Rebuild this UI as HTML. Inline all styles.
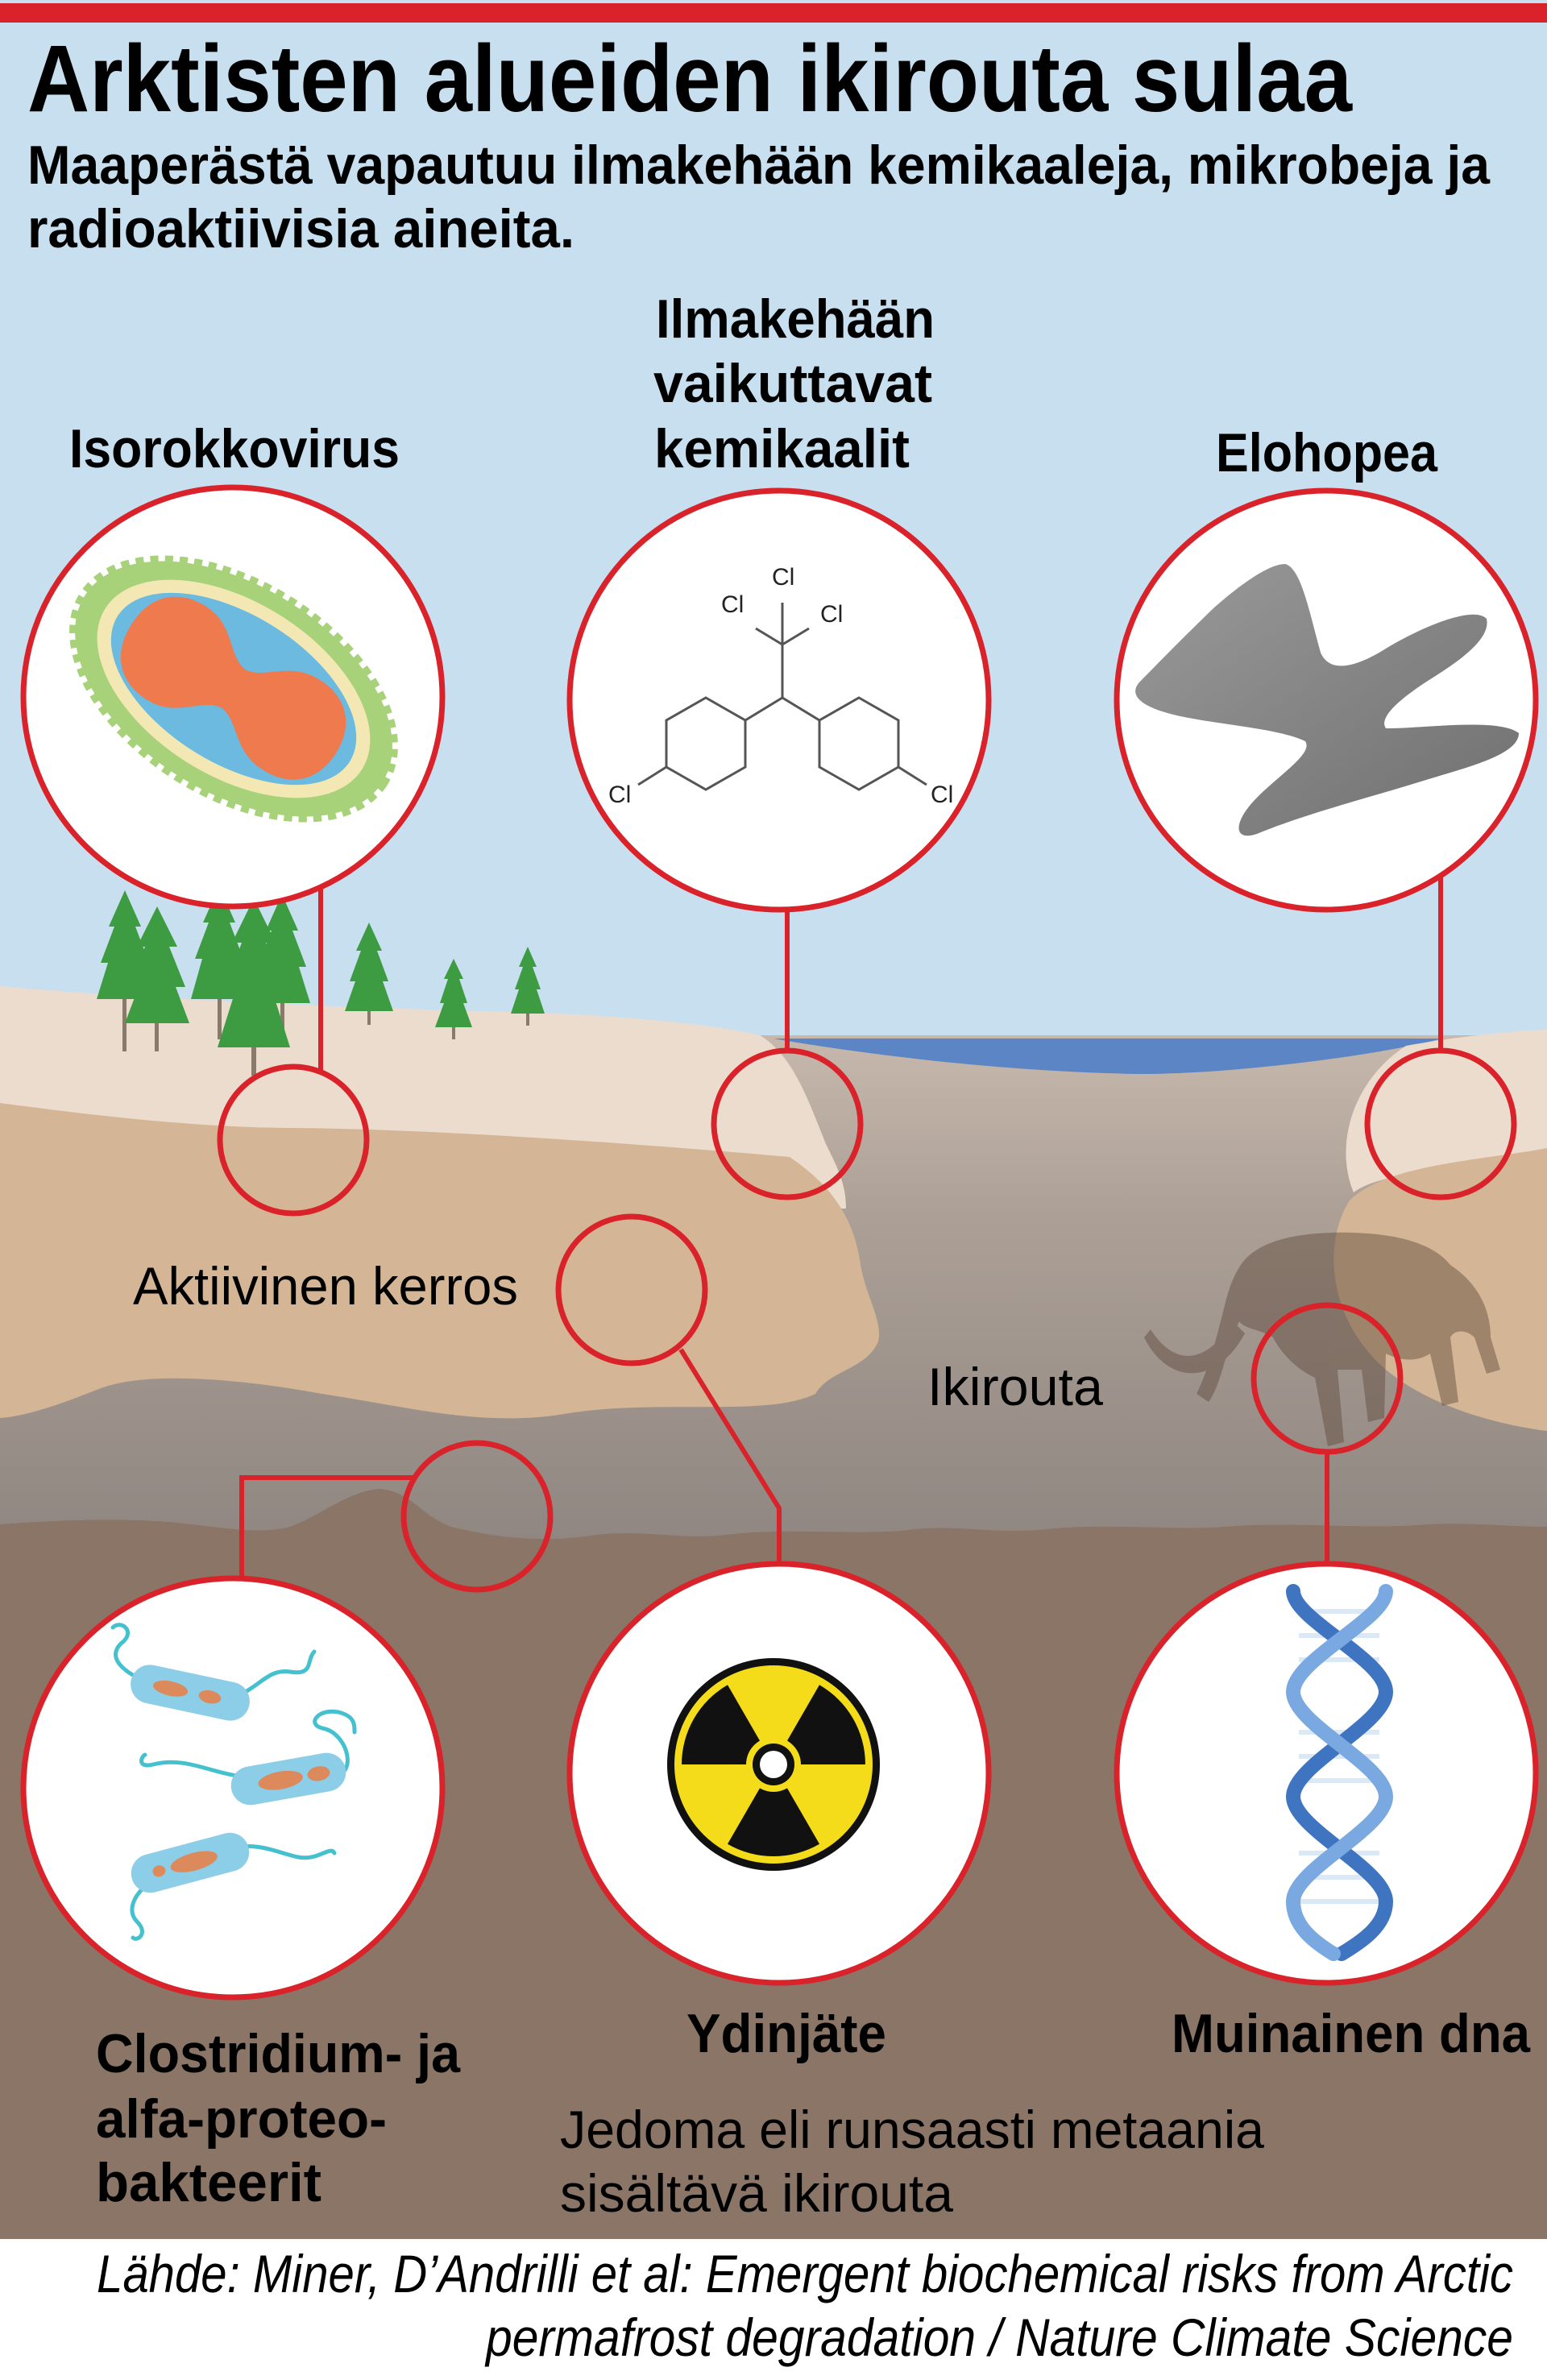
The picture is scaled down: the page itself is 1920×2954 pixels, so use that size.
<!DOCTYPE html>
<html><head><meta charset="utf-8"><style>
html,body{margin:0;padding:0;background:#fff}
svg{display:block}
text{font-family:"Liberation Sans",sans-serif}
.b{font-weight:bold}
</style></head><body>
<svg width="1920" height="2954" viewBox="0 0 1920 2954" xmlns="http://www.w3.org/2000/svg">
<defs>
<linearGradient id="perm" x1="0" y1="0" x2="0" y2="1">
<stop offset="0" stop-color="#c6b8ac"/><stop offset="0.35" stop-color="#aca096"/><stop offset="1" stop-color="#8f8681"/>
</linearGradient>
<linearGradient id="hg" x1="0" y1="0" x2="1" y2="1">
<stop offset="0" stop-color="#9a9a9a"/><stop offset="1" stop-color="#6f6f6f"/>
</linearGradient>
<linearGradient id="dnaA" x1="0" y1="0" x2="1" y2="0">
<stop offset="0" stop-color="#2d63b0"/><stop offset="0.5" stop-color="#a9c8ec"/><stop offset="1" stop-color="#2d63b0"/>
</linearGradient>
</defs>
<!-- sky -->
<rect x="0" y="0" width="1920" height="1400" fill="#c8dff0"/>
<rect x="0" y="4" width="1920" height="24" fill="#d9222a"/>
<!-- permafrost grey -->
<rect x="0" y="1285" width="1920" height="640" fill="url(#perm)"/>
<!-- water -->
<path d="M960,1289 L1790,1289 C1700,1312 1520,1334 1408,1333 C1250,1330 1080,1310 960,1289 Z" fill="#5c85c5"/>
<!-- left light sand -->
<path d="M0,1224 C150,1238 400,1250 600,1255 C750,1258 880,1270 943,1285 C985,1310 1005,1370 1025,1420 C1040,1450 1050,1470 1050,1500 L0,1500 Z" fill="#ecdccd"/>
<!-- left sand -->
<path d="M0,1369 C120,1385 250,1400 367,1400 C550,1402 800,1420 980,1436 C1030,1470 1060,1510 1068,1570 C1075,1610 1096,1640 1090,1665 C1075,1700 1030,1700 1012,1730 C950,1760 820,1735 700,1755 C600,1772 500,1745 400,1730 C300,1712 180,1700 120,1725 C70,1745 30,1758 0,1760 Z" fill="#d4b696"/>
<!-- right light sand -->
<path d="M1920,1278 L1920,1440 C1840,1450 1720,1450 1680,1480 C1655,1420 1680,1340 1745,1298 C1800,1288 1870,1280 1920,1278 Z" fill="#ecdccd"/>
<!-- right sand -->
<path d="M1920,1425 C1840,1440 1720,1445 1675,1490 C1640,1545 1650,1640 1720,1700 C1780,1750 1870,1770 1920,1776 Z" fill="#d4b696"/>
<!-- brown bottom -->
<path d="M0,1892 C80,1886 160,1884 220,1890 C280,1896 320,1905 360,1895 C400,1880 430,1852 470,1848 C510,1850 520,1880 560,1895 C620,1910 680,1915 740,1905 C800,1898 850,1912 900,1905 C980,1896 1050,1905 1120,1900 C1180,1890 1230,1905 1300,1898 C1380,1890 1450,1900 1520,1895 C1600,1888 1680,1898 1760,1893 C1820,1888 1870,1895 1920,1895 L1920,2780 L0,2780 Z" fill="#8a7566"/>
<!-- mammoth -->
<g fill="#5e4638" opacity="0.45">
<path d="M1540,1570 C1560,1540 1610,1528 1680,1530 C1740,1532 1780,1545 1800,1570 C1830,1590 1850,1620 1850,1660 L1862,1700 L1845,1705 L1830,1660 C1820,1650 1805,1650 1800,1660 L1810,1740 L1790,1745 L1775,1680 C1760,1690 1740,1690 1720,1680 L1718,1760 L1698,1765 L1690,1700 L1660,1700 L1668,1790 L1648,1795 L1632,1710 C1610,1700 1590,1680 1580,1660 C1565,1650 1545,1650 1538,1640 C1520,1680 1515,1720 1500,1740 L1485,1730 C1500,1700 1510,1660 1520,1620 C1525,1600 1530,1585 1540,1570 Z"/>
<path d="M1530,1640 C1500,1690 1460,1700 1428,1650 L1420,1660 C1450,1720 1510,1720 1545,1655 Z"/>
</g>
<!-- trees -->
<g>
<g fill="#8a7a6a">
<rect x="152" y="1230" width="5" height="75"/><rect x="192" y="1250" width="5" height="55"/><rect x="270" y="1230" width="5" height="60"/><rect x="312" y="1280" width="6" height="55"/><rect x="348" y="1230" width="5" height="60"/><rect x="456" y="1240" width="4" height="32"/><rect x="561" y="1260" width="4" height="30"/><rect x="653" y="1245" width="4" height="28"/>
</g>
<g fill="#3d9c42">
<path d="M155,1105 L175,1150 L168,1150 L185,1195 L176,1195 L190,1240 L120,1240 L134,1195 L125,1195 L142,1150 L135,1150 Z"/>
<path d="M195,1125 L220,1175 L210,1175 L230,1225 L218,1225 L235,1270 L155,1270 L172,1225 L160,1225 L180,1175 L170,1175 Z"/>
<path d="M272,1100 L292,1145 L285,1145 L302,1190 L293,1190 L307,1240 L237,1240 L251,1190 L242,1190 L259,1145 L252,1145 Z"/>
<path d="M350,1110 L370,1155 L363,1155 L380,1200 L371,1200 L385,1245 L315,1245 L329,1200 L320,1200 L337,1155 L330,1155 Z"/>
<path d="M315,1115 L342,1170 L330,1170 L352,1230 L338,1230 L360,1300 L270,1300 L292,1230 L278,1230 L300,1170 L288,1170 Z"/>
<path d="M458,1145 L474,1180 L468,1180 L482,1218 L475,1218 L488,1255 L428,1255 L441,1218 L434,1218 L448,1180 L442,1180 Z"/>
<path d="M563,1190 L575,1215 L570,1215 L580,1245 L575,1245 L586,1275 L540,1275 L551,1245 L546,1245 L556,1215 L551,1215 Z"/>
<path d="M655,1175 L666,1200 L661,1200 L671,1228 L666,1228 L676,1258 L634,1258 L644,1228 L639,1228 L649,1200 L644,1200 Z"/>
</g>
</g>
<!-- connectors -->
<g stroke="#d9222a" stroke-width="6" fill="none">
<line x1="398" y1="1100" x2="398" y2="1330"/>
<line x1="977" y1="1128" x2="977" y2="1302"/>
<line x1="1788" y1="1085" x2="1788" y2="1303"/>
<polyline points="845,1675 967,1872 967,1942"/>
<polyline points="514,1834 300,1834 300,1962"/>
<line x1="1647" y1="1803" x2="1647" y2="1942"/>
<circle cx="364" cy="1415" r="91" stroke-width="7"/>
<circle cx="977" cy="1395" r="91" stroke-width="7"/>
<circle cx="1788" cy="1395" r="91" stroke-width="7"/>
<circle cx="784" cy="1601" r="91" stroke-width="7"/>
<circle cx="592" cy="1882" r="91" stroke-width="7"/>
<circle cx="1647" cy="1711" r="91" stroke-width="7"/>
</g>
<!-- big circles -->
<g fill="#fff" stroke="#d9222a" stroke-width="7">
<circle cx="289" cy="865" r="260"/>
<circle cx="967" cy="869" r="260"/>
<circle cx="1646" cy="869" r="260"/>
<circle cx="289" cy="2219" r="260"/>
<circle cx="967" cy="2201" r="260"/>
<circle cx="1646" cy="2201" r="260"/>
</g>
<!-- virus -->
<g transform="translate(290,855) rotate(32)">
<ellipse rx="218" ry="128" fill="#a8d27a" stroke="#a8d27a" stroke-width="14" stroke-dasharray="10 8" stroke-linejoin="round"/>
<ellipse rx="188" ry="108" fill="#f3e8b4"/>
<ellipse rx="170" ry="92" fill="#6cbadf"/>
<path d="M-150,0 C-150,-55 -110,-72 -75,-68 C-40,-64 -25,-30 0,-28 C25,-30 40,-64 80,-66 C120,-68 150,-45 150,0 C150,45 120,68 80,66 C40,64 25,30 0,28 C-25,30 -40,64 -75,68 C-110,72 -150,55 -150,0 Z" fill="#ee7a4e"/>
</g>
<!-- chemical -->
<g stroke="#555" stroke-width="3" fill="none">
<polygon points="876,866 925,894 925,952 876,980 827,952 827,894"/>
<polygon points="1066,866 1115,894 1115,952 1066,980 1017,952 1017,894"/>
<polyline points="925,894 971,866 1017,894"/>
<line x1="971" y1="866" x2="971" y2="800"/>
<line x1="971" y1="800" x2="971" y2="748"/>
<line x1="971" y1="800" x2="938" y2="780"/>
<line x1="971" y1="800" x2="1004" y2="780"/>
<line x1="827" y1="952" x2="792" y2="974"/>
<line x1="1115" y1="952" x2="1150" y2="974"/>
</g>
<g font-size="30" fill="#222">
<text x="958" y="726">Cl</text><text x="895" y="760">Cl</text><text x="1018" y="772">Cl</text>
<text x="755" y="996">Cl</text><text x="1155" y="996">Cl</text>
</g>
<!-- mercury -->
<path d="M1413,848 C1450,810 1480,780 1507,754 C1540,725 1575,700 1595,700 C1615,705 1625,760 1639,810 C1650,835 1680,830 1720,805 C1770,775 1830,752 1845,768 C1850,790 1820,815 1780,840 C1740,865 1710,890 1720,904 C1760,905 1860,890 1885,910 C1885,935 1830,950 1780,965 C1700,990 1620,1010 1560,1035 C1530,1045 1530,1020 1560,990 C1590,960 1630,935 1620,920 C1590,905 1520,900 1470,890 C1420,880 1400,865 1413,848 Z" fill="url(#hg)"/>
<!-- bacteria -->
<g stroke="#45c0cf" stroke-width="5" fill="none" stroke-linecap="round">
<path d="M190,2090 C160,2080 130,2060 150,2040 C170,2025 150,2010 140,2020"/>
<path d="M280,2110 C320,2100 330,2070 360,2075 C390,2080 380,2060 390,2050"/>
<path d="M300,2205 C260,2200 230,2180 190,2190 C170,2195 175,2180 180,2178"/>
<path d="M415,2205 C445,2200 430,2150 400,2145 C380,2140 395,2120 420,2125 C440,2130 440,2140 440,2150"/>
<path d="M190,2335 C170,2345 155,2370 170,2385 C185,2400 170,2410 165,2405"/>
<path d="M285,2295 C320,2285 345,2300 370,2305 C395,2310 410,2290 415,2300"/>
</g>
<g>
<g transform="translate(236,2101) rotate(12)"><rect x="-75" y="-24" width="150" height="48" rx="24" fill="#8ccde8"/><ellipse cx="-25" rx="22" ry="9" fill="#dc8a5c"/><ellipse cx="25" rx="14" ry="8" fill="#dc8a5c"/></g>
<g transform="translate(358,2208) rotate(-10)"><rect x="-72" y="-24" width="144" height="48" rx="24" fill="#8ccde8"/><ellipse cx="-10" rx="28" ry="11" fill="#dc8a5c"/><ellipse cx="38" rx="14" ry="9" fill="#dc8a5c"/></g>
<g transform="translate(236,2312) rotate(-15)"><rect x="-75" y="-24" width="150" height="48" rx="24" fill="#8ccde8"/><ellipse cx="5" rx="30" ry="11" fill="#dc8a5c"/><ellipse cx="-40" rx="8" ry="7" fill="#dc8a5c"/></g>
</g>
<!-- radiation -->
<g transform="translate(960,2190)">
<circle r="132" fill="#111"/>
<circle r="123" fill="#f5dc1a"/>
<g fill="#111">
<path d="M0,0 L-57,-98.7 A114,114 0 0 1 57,-98.7 Z" transform="rotate(-60)"/>
<path d="M0,0 L-57,-98.7 A114,114 0 0 1 57,-98.7 Z" transform="rotate(60)"/>
<path d="M0,0 L-57,-98.7 A114,114 0 0 1 57,-98.7 Z" transform="rotate(180)"/>
</g>
<circle r="34" fill="#f5dc1a"/>
<circle r="26" fill="#111"/>
<circle r="17" fill="#fff"/>
</g>
<!-- DNA -->
<g stroke="#dbe8f6" stroke-width="6">
<line x1="1612" y1="2000" x2="1712" y2="2000"/><line x1="1612" y1="2030" x2="1712" y2="2030"/><line x1="1612" y1="2060" x2="1712" y2="2060"/>
<line x1="1612" y1="2150" x2="1712" y2="2150"/><line x1="1612" y1="2180" x2="1712" y2="2180"/><line x1="1612" y1="2210" x2="1712" y2="2210"/>
<line x1="1612" y1="2300" x2="1712" y2="2300"/><line x1="1612" y1="2330" x2="1712" y2="2330"/><line x1="1612" y1="2360" x2="1712" y2="2360"/>
</g>
<g fill="none" stroke-width="18" stroke-linecap="round">
<path d="M1605,1975 C1605,2010 1720,2060 1720,2100 C1720,2140 1605,2190 1605,2230 C1605,2270 1720,2320 1720,2360 C1720,2390 1690,2410 1665,2425" stroke="#3e74c0"/>
<path d="M1720,1975 C1720,2010 1605,2060 1605,2100 C1605,2140 1720,2190 1720,2230 C1720,2270 1605,2320 1605,2360 C1605,2390 1630,2410 1655,2425" stroke="#7aa8e0"/>
</g>
<!-- source band -->
<rect x="0" y="2779" width="1920" height="175" fill="#fff"/>
<!-- texts -->
<g class="b" fill="#000" font-weight="bold">
<text x="34" y="138" font-size="118" textLength="1644" lengthAdjust="spacingAndGlyphs">Arktisten alueiden ikirouta sulaa</text>
<text x="34" y="228" font-size="68" textLength="1815" lengthAdjust="spacingAndGlyphs">Maaperästä vapautuu ilmakehään kemikaaleja, mikrobeja ja</text>
<text x="34" y="307" font-size="68" textLength="679" lengthAdjust="spacingAndGlyphs">radioaktiivisia aineita.</text>
<text x="814" y="419" font-size="68" textLength="346" lengthAdjust="spacingAndGlyphs">Ilmakehään</text>
<text x="811" y="499" font-size="68" textLength="346" lengthAdjust="spacingAndGlyphs">vaikuttavat</text>
<text x="812" y="580" font-size="68" textLength="317" lengthAdjust="spacingAndGlyphs">kemikaalit</text>
<text x="86" y="580" font-size="68" textLength="410" lengthAdjust="spacingAndGlyphs">Isorokkovirus</text>
<text x="1509" y="585" font-size="68" textLength="275" lengthAdjust="spacingAndGlyphs">Elohopea</text>
<text x="119" y="2572" font-size="68" textLength="452" lengthAdjust="spacingAndGlyphs">Clostridium- ja</text>
<text x="119" y="2653" font-size="68" textLength="361" lengthAdjust="spacingAndGlyphs">alfa-proteo-</text>
<text x="119" y="2732" font-size="68" textLength="280" lengthAdjust="spacingAndGlyphs">bakteerit</text>
<text x="852" y="2547" font-size="68" textLength="248" lengthAdjust="spacingAndGlyphs">Ydinjäte</text>
<text x="1454" y="2547" font-size="68" textLength="445" lengthAdjust="spacingAndGlyphs">Muinainen dna</text>
</g>
<g fill="#000" font-size="66">
<text x="165" y="1619" textLength="478" lengthAdjust="spacingAndGlyphs">Aktiivinen kerros</text>
<text x="1151" y="1744" textLength="218" lengthAdjust="spacingAndGlyphs">Ikirouta</text>
<text x="695" y="2666" textLength="874" lengthAdjust="spacingAndGlyphs">Jedoma eli runsaasti metaania</text>
<text x="695" y="2745" textLength="488" lengthAdjust="spacingAndGlyphs">sisältävä ikirouta</text>
<text x="120" y="2845" font-style="italic" textLength="1758" lengthAdjust="spacingAndGlyphs">Lähde: Miner, D’Andrilli et al: Emergent biochemical risks from Arctic</text>
<text x="603" y="2924" font-style="italic" textLength="1275" lengthAdjust="spacingAndGlyphs">permafrost degradation / Nature Climate Science</text>
</g>
</svg>
</body></html>
